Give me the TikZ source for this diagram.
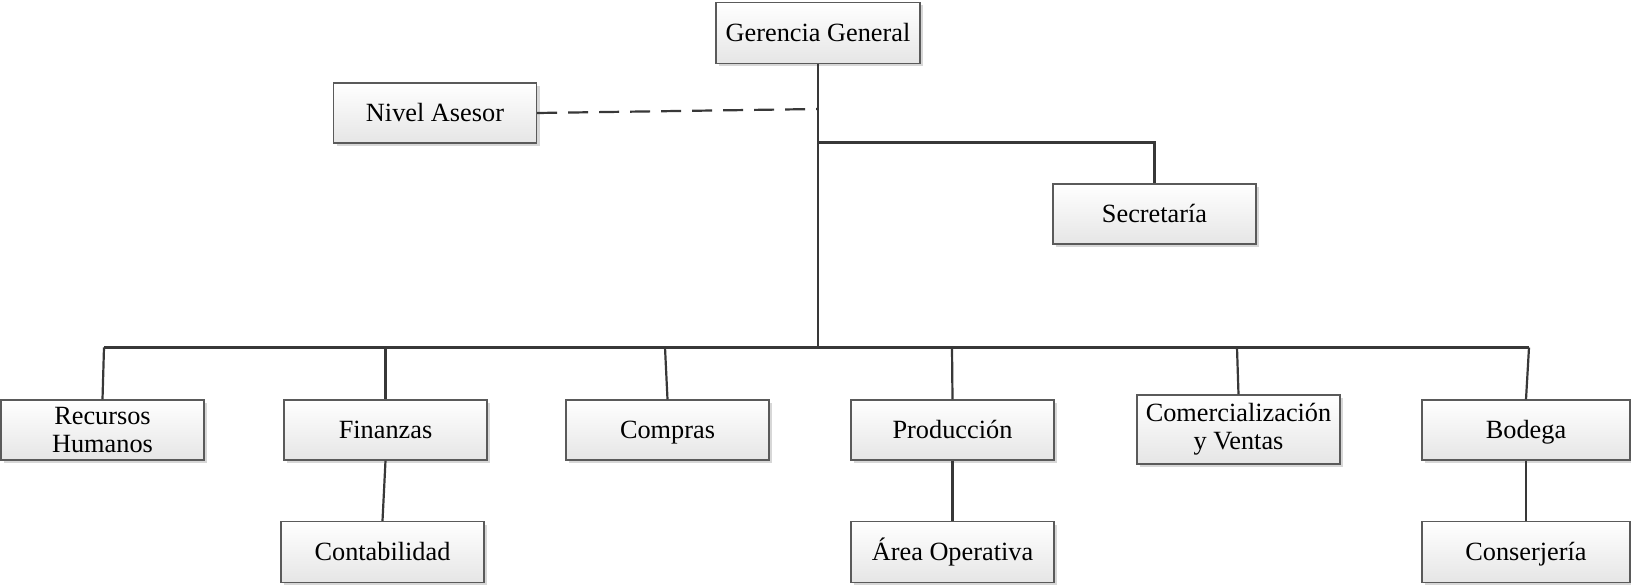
\documentclass[tikz,border=0pt]{standalone}
\usepackage{fontspec}
\setmainfont{Liberation Serif}
\usetikzlibrary{shadows}
\definecolor{linegray}{HTML}{383838}
\definecolor{boxborder}{HTML}{5A5A5A}
\tikzset{
  orgbox/.style={draw=boxborder, line width=1.2pt, top color=white, bottom color=gray!20,
    minimum width=203pt, minimum height=60pt, inner sep=2pt,
    font=\fontsize{26.3}{28}\selectfont, text height=18.4pt, text depth=0.5pt,
    drop shadow={shadow xshift=3pt, shadow yshift=-3pt, fill=gray!45, opacity=0.7}},
  twoline/.style={align=center, text height=, text depth=},
  conn/.style={draw=linegray, line width=2.2pt},
  dashconn/.style={draw=linegray, line width=2.2pt, dash pattern=on 20pt off 11pt}
}
\begin{document}
\begin{tikzpicture}[x=1pt,y=-1pt]
\useasboundingbox (0,0) rectangle (1631,585);
% nodes
\node[orgbox, minimum width=204pt, minimum height=61pt] (gg) at (818,33) {Gerencia General};
\node[orgbox] (na) at (435,113) {Nivel Asesor};
\node[orgbox] (sec) at (1154.5,214) {Secretaría};
\node[orgbox, twoline] (rh) at (102.5,430) {Recursos\\Humanos};
\node[orgbox] (fin) at (385.5,430) {Finanzas};
\node[orgbox] (com) at (667.5,430) {Compras};
\node[orgbox] (prod) at (952.5,430) {Producción};
\node[orgbox, twoline, minimum height=69pt] (cv) at (1238.5,429.5) {Comercialización\\y Ventas};
\node[orgbox, minimum width=208pt] (bod) at (1526,430) {Bodega};
\node[orgbox, minimum height=61pt] (cont) at (382.5,552) {Contabilidad};
\node[orgbox, minimum height=61pt] (area) at (952.5,552) {Área Operativa};
\node[orgbox, minimum width=208pt, minimum height=61pt] (cons) at (1526,552) {Conserjería};
% coordinates
\coordinate (tdash) at (818,109);
\coordinate (tsec) at (818,142.5);
\coordinate (tbus) at (818,347.5);
\coordinate (b1) at (104,347.5);
\coordinate (b2) at (385.5,347.5);
\coordinate (b3) at (665,347.5);
\coordinate (b4) at (952,347.5);
\coordinate (b5) at (1237,347.5);
\coordinate (b6) at (1529,347.5);
% connectors
\draw[conn] (gg.south) -- (tbus);
\draw[dashconn] (na.east) -- (tdash);
\draw[conn] (tsec) -| (sec.north);
\draw[conn] (b1) -- (b6);
\draw[conn] (b1) -- (rh.north);
\draw[conn] (b2) -- (fin.north);
\draw[conn] (b3) -- (com.north);
\draw[conn] (b4) -- (prod.north);
\draw[conn] (b5) -- (cv.north);
\draw[conn] (b6) -- (bod.north);
\draw[conn] (fin.south) -- (cont.north);
\draw[conn] (prod.south) -- (area.north);
\draw[conn] (bod.south) -- (cons.north);
\end{tikzpicture}
\end{document}
